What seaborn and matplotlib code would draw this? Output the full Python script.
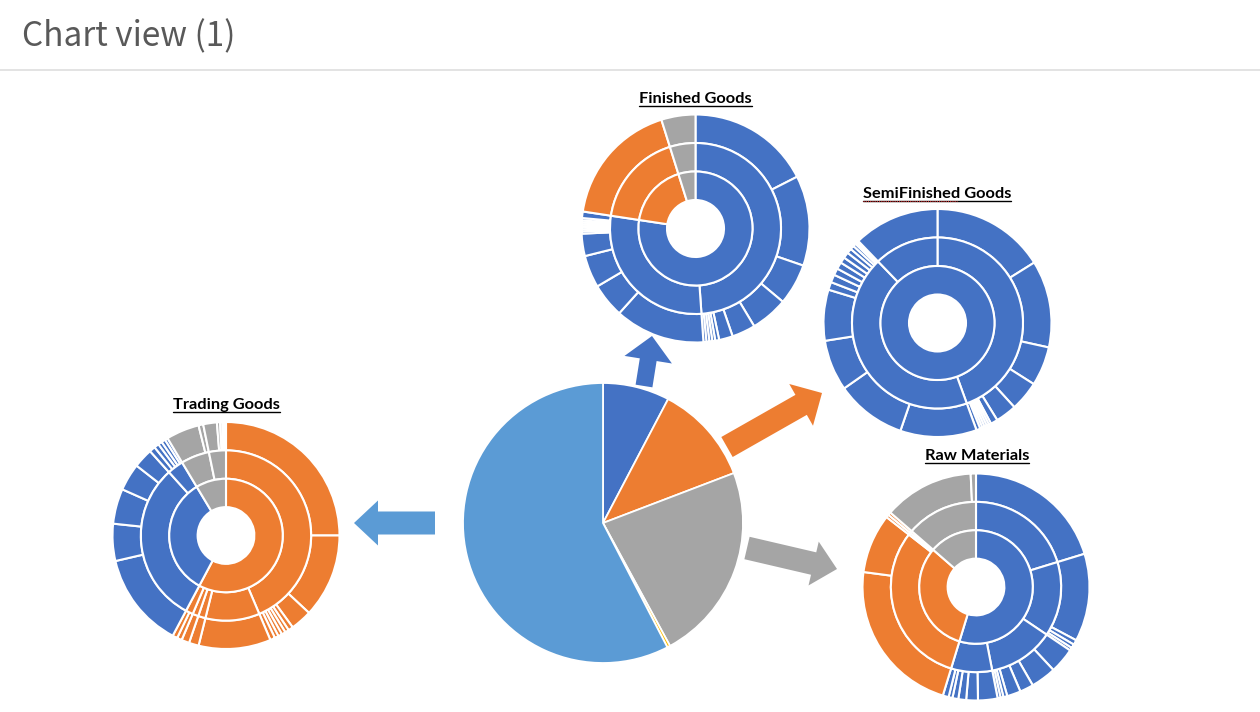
import matplotlib
matplotlib.use("Agg")
import matplotlib.pyplot as plt
from matplotlib.patches import FancyArrow
import seaborn as sns

W, H = 1260, 712

# central pie: stock share by material type (clockwise from 12 o'clock)
pie_labels = ["Finished Goods", "SemiFinished Goods", "Raw Materials", "Other", "Trading Goods"]
pie_values = [7.7, 11.5, 22.85, 0.35, 57.6]

fin_tops = ["G1", "G2", "G3"]
fin_leaves = [
    [[63, 46, 21, 19, 12, 7, 2, 1.5, 1.5, 1.5, 1.5],
     [46, 17.5, 16.5, 11.4, 1.2, 1.1, 1.1, 1.1, 1.1, 1.1, 1.2, 3.3]],
    [[64]],
    [[17.4]],
]

semi_tops = ["G1"]
semi_leaves = [
    [[58, 44.4, 20, 15.2, 10.8, 3.6, 1.2, 1.2, 1.2, 1.2, 1.2, 2],
     [39, 36, 26, 26, 4, 4, 3.5, 3.5, 3, 3, 2.5, 2, 1.5, 1, 1],
     [44]],
]

trad_tops = ["G2", "G1", "G3"]
trad_leaves = [
    [[90, 43, 11, 2.5, 2, 2, 2, 2, 2.5], [37], [5], [4], [2.5, 2.5]],
    [[49, 19, 18, 14, 10], [3, 2.5, 2, 2, 1.5]],
    [[17, 2.4], [7, 1.6, 1.2, 0.9, 0.9]],
]

raw_tops = ["G1", "G2", "G3"]
raw_leaves = [
    [[73], [45, 2.5, 2, 1.5], [13, 13, 7, 7, 2, 1.5, 1.5], [10, 6, 4, 3, 2, 3]],
    [[80.6, 30.4], [1.5], [1.5]],
    [[46.3, 2.7]],
]

blue, orange, gray, yellow, lblue = "#4472C4", "#ED7D31", "#A5A5A5", "#FFC000", "#5B9BD5"
top_colors = {"G1": blue, "G2": orange, "G3": gray}
pie_colors = [blue, orange, gray, yellow, lblue]

sns.set_theme(style="white")
plt.rcParams["font.family"] = ["Noto Sans CJK KR", "DejaVu Sans"]

fig = plt.figure(figsize=(12.6, 7.12), dpi=100)
ax = fig.add_axes([0, 0, 1, 1])


def sunburst(ax, cx, cy, R, tops, leaves):
    inner = [sum(sum(m) for m in t) for t in leaves]
    mid = [sum(m) for t in leaves for m in t]
    outer = [v for t in leaves for m in t for v in m]
    c_in = [top_colors[k] for k in tops]
    c_mid = [top_colors[k] for k, t in zip(tops, leaves) for m in t]
    c_out = [top_colors[k] for k, t in zip(tops, leaves) for m in t for v in m]
    for r, vals, cols in [(R, outer, c_out), (R * 0.75, mid, c_mid), (R * 0.5, inner, c_in)]:
        ax.pie(vals, colors=cols, radius=r, center=(cx, H - cy), startangle=90,
               counterclock=False, frame=True,
               wedgeprops=dict(width=R * 0.25, edgecolor="white", linewidth=1.5))


# central pie
ax.pie(pie_values, colors=pie_colors, radius=140, center=(603, H - 523), startangle=90,
       counterclock=False, frame=True, wedgeprops=dict(edgecolor="white", linewidth=1.3))

sunburst(ax, 695.5, 228.5, 114, fin_tops, fin_leaves)
sunburst(ax, 937.5, 323, 114, semi_tops, semi_leaves)
sunburst(ax, 226, 535.5, 113.5, trad_tops, trad_leaves)
sunburst(ax, 976, 587, 113.5, raw_tops, raw_leaves)

# arrows from the pie slices to their sunbursts
def arrow(x0, y0, x1, y1, color, w=22, hw=47, hl=24):
    ax.add_patch(FancyArrow(x0, H - y0, x1 - x0, -(y1 - y0), width=w, head_width=hw,
                            head_length=hl, length_includes_head=True,
                            color=color, lw=0))

arrow(644, 386, 652, 336, blue, w=17, hw=48)
arrow(727, 447, 822, 393, orange, w=23, hw=48)
arrow(747, 548, 837, 569, gray, w=23, hw=45)
arrow(435, 523, 354, 523, lblue, w=23, hw=45)

# header
ax.text(22, H - 46, "Chart view (1)", fontsize=24, color="#595959", va="baseline",
        ha="left", fontweight="light")
ax.plot([0, W], [H - 70, H - 70], color="#dedede", lw=1.2)

titles = [("Finished Goods", 695.8, 103), ("SemiFinished Goods", 936.7, 198.5),
          ("Trading Goods", 226.7, 409.5), ("Raw Materials", 976.7, 460)]
tt = []
for s, x, y in titles:
    t = ax.text(x, H - y, s, fontsize=11.8, fontweight="bold", ha="center", va="baseline",
                color="black", family=["Lato", "DejaVu Sans"])
    tt.append((t, y))

ax.set_xlim(0, W)
ax.set_ylim(0, H)
ax.set_aspect("equal")
ax.axis("off")

fig.canvas.draw()
inv = ax.transData.inverted()
for t, y in tt:
    bb = t.get_window_extent()
    xa = inv.transform((bb.x0, 0))[0]
    xb = inv.transform((bb.x1, 0))[0]
    ax.plot([xa, xb], [H - y - 2.5, H - y - 2.5], color="black", lw=1)
    if t.get_text().startswith("Semi"):
        # spell-check squiggle under "SemiFinished"
        ax.plot([xa, xa + (xb - xa) * 0.64], [H - y - 2, H - y - 2], color="#d03030",
                lw=0.8, ls=(0, (1, 1)))

fig.savefig("out.png", dpi=100, facecolor="white")
